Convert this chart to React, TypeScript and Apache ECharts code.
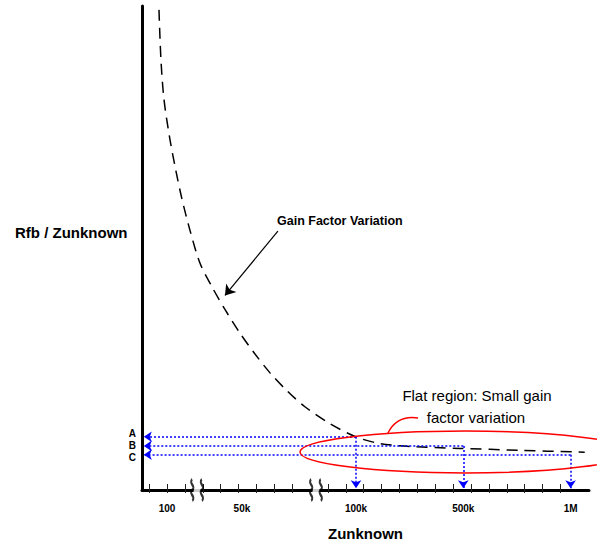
import React, { useEffect, useRef } from "react";
import * as echarts from "echarts";

// Curve "Gain Factor Variation" (x in tick units, y in relative Rfb/Zunknown units)
const curveX = [0.55, 0.66, 0.83, 1.16, 1.5, 1.83, 2.28, 2.84, 3.51, 4.24, 5.08, 5.92, 6.76, 7.71, 8.71, 10.11, 11.62, 12.91, 14.59, 17.38, 20.73, 24.36];
const curveY = [99.2, 88.9, 80.7, 72.5, 65.9, 60.2, 53.7, 46.9, 42.0, 37.3, 32.4, 28.1, 24.2, 20.5, 17.2, 13.7, 10.9, 9.6, 9.0, 8.6, 8.2, 7.8];

// x axis ticks and labels
const xTickValues = [0, 1, 2, 3, 4, 5, 6, 7, 8, 10, 11, 12, 13, 14, 15, 16, 17, 18, 19, 20, 21, 22, 23];
const xLabelValues = [1.0, 5.19, 11.57, 17.57, 23.57];
const xLabelTexts = ["100", "50k", "100k", "500k", "1M"];
const xBreakValues = [2.68, 9.33];

// y axis labels (levels A, B, C)
const yLabelValues = [11.0, 9.1, 7.3];
const yLabelTexts = ["A", "B", "C"];

// which x label each level's arrow drops to
const levelTargetIndex = [2, 3, 4];

// annotation arrow (Gain Factor Variation)
const gainArrowFrom = [7.2, 53.5];
const gainArrowTo = [4.24, 40.2];

const X_MIN = -0.4;
const X_MAX = 24.6;
const Y_MIN = 0;
const Y_MAX = 100;
const FONT = "'Liberation Sans', Arial, sans-serif";
const LEVEL_LABEL_NUDGE = [-3, 0, 3];

export default function App() {
  const ref = useRef<HTMLDivElement>(null);

  useEffect(() => {
    if (!ref.current) return;
    const chart = echarts.init(ref.current, undefined, { renderer: "svg" });

    const curveData = curveX.map((x, i) => [x, curveY[i]]);
    const tipX = -0.3;
    const tipY = 0.35;
    const blueData: any[] = [];
    yLabelValues.forEach((yv, i) => {
      const xv = xLabelValues[levelTargetIndex[i]];
      blueData.push({ coords: [[xv, yv], [tipX, yv]] });
      blueData.push({ coords: [[xv, yv], [xv, tipY]] });
    });

    const graphic: any[] = [
      {
        type: "text",
        x: 15,
        y: 232,
        style: {
          text: "Rfb / Zunknown",
          fill: "#000",
          fontSize: 15,
          fontWeight: "bold",
          fontFamily: FONT,
          align: "left",
          verticalAlign: "middle",
        },
      },
      {
        type: "text",
        x: 277,
        y: 221,
        style: {
          text: "Gain Factor Variation",
          fill: "#000",
          fontSize: 12.5,
          fontWeight: "bold",
          fontFamily: FONT,
          align: "left",
          verticalAlign: "middle",
        },
      },
      {
        type: "text",
        x: 477,
        y: 395,
        style: {
          text: "Flat region: Small gain",
          fill: "#000",
          fontSize: 15,
          fontFamily: FONT,
          align: "center",
          verticalAlign: "middle",
        },
      },
      {
        type: "text",
        x: 476,
        y: 417,
        style: {
          text: "factor variation",
          fill: "#000",
          fontSize: 15,
          fontFamily: FONT,
          align: "center",
          verticalAlign: "middle",
        },
      },
      {
        type: "ellipse",
        shape: { cx: 465, cy: 452, rx: 165, ry: 21 },
        style: { fill: "none", stroke: "#ff0000", lineWidth: 1.5 },
        z: 10,
        silent: true,
      },
      {
        type: "bezierCurve",
        shape: { x1: 388, y1: 433, cpx1: 394, cpy1: 421, cpx2: 404, cpy2: 416, x2: 418, y2: 418 },
        style: { fill: "none", stroke: "#ff0000", lineWidth: 1.5 },
        z: 10,
        silent: true,
      },
    ];

    const option: any = {
      animation: false,
      textStyle: { fontFamily: FONT },
      grid: { left: 142, right: 8, top: 6, bottom: 52, containLabel: false },
      xAxis: [
        {
          type: "value",
          min: X_MIN,
          max: X_MAX,
          position: "bottom",
          axisLine: { show: true, onZero: false, lineStyle: { color: "#000", width: 3 } },
          axisTick: {
            show: true,
            customValues: xTickValues,
            length: 3,
            lineStyle: { color: "#222", width: 1 },
          },
          axisLabel: {
            show: true,
            customValues: xLabelValues,
            hideOverlap: false,
            formatter: (v: number) => {
              const i = xLabelValues.findIndex((p) => Math.abs(p - v) < 1e-6);
              return i >= 0 ? xLabelTexts[i] : "";
            },
            color: "#000",
            fontWeight: "bold",
            fontSize: 10,
            margin: 13,
            fontFamily: FONT,
          },
          splitLine: { show: false },
          name: "Zunknown",
          nameLocation: "middle",
          nameGap: 36,
          nameTextStyle: { color: "#000", fontWeight: "bold", fontSize: 15, fontFamily: FONT },
        },
        {
          type: "value",
          min: X_MIN,
          max: X_MAX,
          position: "bottom",
          offset: 0,
          axisLine: { show: false, onZero: false },
          axisTick: {
            show: true,
            inside: true,
            customValues: xTickValues,
            length: 6,
            lineStyle: { color: "#222", width: 1 },
          },
          axisLabel: { show: false },
          splitLine: { show: false },
        },
      ],
      yAxis: {
        type: "value",
        min: Y_MIN,
        max: Y_MAX,
        axisLine: { show: true, onZero: false, lineStyle: { color: "#000", width: 3 } },
        axisTick: { show: false },
        axisLabel: { show: false },
        splitLine: { show: false },
      },
      series: [
        {
          type: "line",
          name: "Gain Factor Variation",
          data: curveData,
          smooth: 0.3,
          showSymbol: false,
          symbol: "none",
          lineStyle: { color: "#000", width: 1.5, type: [11, 7] },
          z: 3,
        },
        {
          type: "lines",
          coordinateSystem: "cartesian2d",
          data: blueData,
          symbol: ["none", "arrow"],
          symbolSize: 8,
          lineStyle: { color: "#0000ff", width: 1.5, type: [2, 2], opacity: 1 },
          clip: false,
          z: 4,
        },
        {
          type: "lines",
          coordinateSystem: "cartesian2d",
          data: [{ coords: [gainArrowFrom, gainArrowTo] }],
          symbol: ["none", "arrow"],
          symbolSize: 10,
          lineStyle: { color: "#000", width: 1.2, opacity: 1 },
          clip: false,
          z: 4,
        },
        {
          type: "scatter",
          data: xBreakValues.map((x) => [x, 0]),
          symbol: "rect",
          symbolSize: [7, 7],
          itemStyle: { color: "#fff" },
          clip: false,
          silent: true,
          z: 5,
        },
        {
          type: "scatter",
          data: xBreakValues.map((x) => [x, 0]),
          symbol:
            "path://M3,0 C0,5 6,9 3,14 C0,19 6,23 3,28 M10,0 C7,5 13,9 10,14 C7,19 13,23 10,28",
          symbolSize: [12, 21],
          itemStyle: { color: "rgba(0,0,0,0)", borderColor: "#000", borderWidth: 2.5 },
          clip: false,
          silent: true,
          z: 6,
        },
      ],
      graphic,
    };

    chart.setOption(option);

    // Level labels A, B, C placed beside the vertical axis at their levels
    const levelTexts = yLabelValues.map((yv, i) => {
      const p = chart.convertToPixel({ xAxisIndex: 0, yAxisIndex: 0 }, [X_MIN, yv]) as number[];
      return {
        type: "text",
        x: p[0] - 6,
        y: p[1] + LEVEL_LABEL_NUDGE[i],
        style: {
          text: yLabelTexts[i],
          fill: "#000",
          fontSize: 10,
          fontWeight: "bold",
          fontFamily: FONT,
          align: "right",
          verticalAlign: "middle",
        },
      };
    });
    chart.setOption({ graphic: [...graphic, ...levelTexts] });

    return () => {
      chart.dispose();
    };
  }, []);

  return (
    <div
      ref={ref}
      style={{ position: "fixed", left: 0, top: 0, width: 597, height: 546, background: "#fff" }}
    />
  );
}
